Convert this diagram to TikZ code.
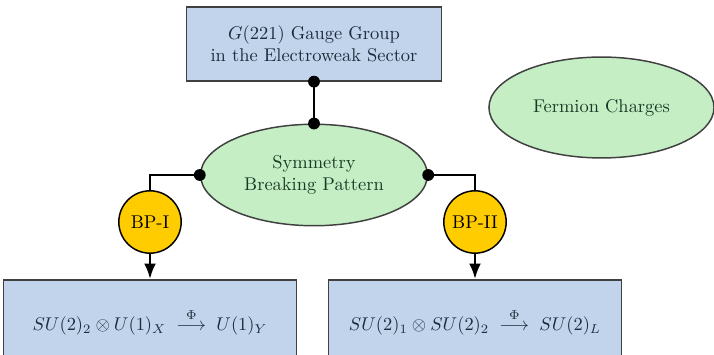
\documentclass[tikz,border=0pt]{standalone}
\usepackage{amsmath,amssymb}
\usepackage{tikz}
\usepackage{xcolor}
\usetikzlibrary{arrows.meta,positioning,shapes.geometric}
\definecolor{ewBlue}{RGB}{194,212,236}
\definecolor{ewGreen}{RGB}{197,238,196}
\definecolor{ewGold}{RGB}{255,204,0}
\definecolor{ewEdge}{RGB}{64,64,64}
\definecolor{ewInk}{RGB}{28,44,60}
\definecolor{ewLeaf}{RGB}{24,58,36}

\begin{document}
\begin{tikzpicture}[
      x=0.542pt, y=-0.542pt,
      groupbox/.style={draw=ewEdge, fill=ewBlue, text=ewInk, align=center, line width=0.8pt, minimum width=138pt, minimum height=40pt},
      breakbox/.style={draw=ewEdge, fill=ewBlue, text=ewInk, align=center, line width=0.8pt, minimum width=159pt, minimum height=45.5pt},
      oval/.style={ellipse, draw=ewEdge, fill=ewGreen, text=ewLeaf, align=center, line width=0.8pt, inner sep=1pt, minimum width=123pt, minimum height=55pt},
      bpnode/.style={circle, draw=black, fill=ewGold, line width=0.8pt, inner sep=1pt, minimum size=33.8pt},
      link/.style={line width=1.6pt, black},
      arrow/.style={-{Latex[length=8.5pt, width=6.5pt]}, line width=1.6pt, black}
    ]
      \useasboundingbox (0,0) rectangle (714,355);
      \clip (0,0) rectangle (714,355);
      \node[groupbox] (g221) at (314,44) {$G(221)$ Gauge Group\\in the Electroweak Sector};
      \node[oval] (sbp) at (314,175) {Symmetry\\Breaking Pattern};
      \node[oval, minimum width=122pt, minimum height=54.7pt] (fch) at (601.5,107.5) {Fermion Charges};
      \node[bpnode] (bp1) at (150,222) {BP-I};
      \node[bpnode] (bp2) at (475,222) {BP-II};
      \node[breakbox] (su1) at (150,322) {$SU(2)_2 \otimes U(1)_X \;\overset{\Phi}{\longrightarrow}\; U(1)_Y$};
      \node[breakbox] (su2) at (475,322) {$SU(2)_1 \otimes SU(2)_2 \;\overset{\Phi}{\longrightarrow}\; SU(2)_L$};
      \draw[link] (g221.south) -- (sbp.north);
      \draw[link] (sbp.west) -| (bp1.north);
      \draw[link] (sbp.east) -| (bp2.north);
      \fill (g221.south) circle (3.2pt);
      \fill (sbp.north) circle (3.2pt);
      \fill (sbp.west) circle (3.2pt);
      \fill (sbp.east) circle (3.2pt);
      \draw[arrow] (bp1) -- (su1);
      \draw[arrow] (bp2) -- (su2);
    \end{tikzpicture}
\end{document}
